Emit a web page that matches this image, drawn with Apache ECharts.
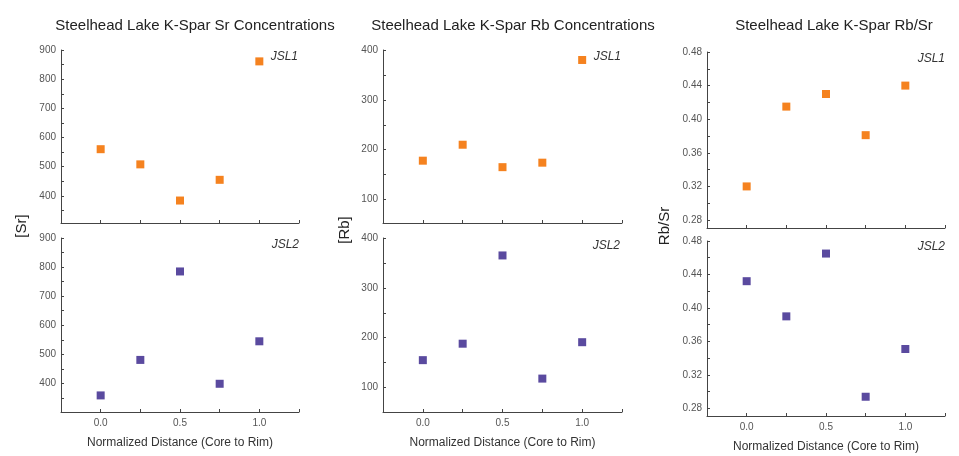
<!DOCTYPE html>
<html>
<head>
<meta charset="utf-8">
<script src="https://cdn.jsdelivr.net/npm/echarts@6/dist/echarts.min.js"></script>
<style>
  html, body { margin: 0; padding: 0; background: #fff; }
  #chart { width: 959px; height: 456px; }
</style>
</head>
<body>
<div id="chart"></div>
<script>
// normalized distance from core (0) to rim (1)
const distance = [0, 0.25, 0.5, 0.75, 1.0]

const srJSL1 = [560, 508, 384, 455, 861]
const srJSL2 = [359, 481, 785, 399, 545]
const rbJSL1 = [178, 210, 165, 174, 380]
const rbJSL2 = [155, 188, 365, 118, 191]
const ratioJSL1 = [0.320, 0.415, 0.430, 0.381, 0.440]
const ratioJSL2 = [0.432, 0.390, 0.465, 0.294, 0.351]

// tick labels / tick marks
const xLabels = [0, 0.5, 1.0]
const xTickMarks = [0, 0.25, 0.5, 0.75, 1.0, 1.25]
const srLabels = [400, 500, 600, 700, 800, 900]
const srTickMarks = [350, 400, 450, 500, 550, 600, 650, 700, 750, 800, 850, 900]
const rbLabels = [100, 200, 300, 400]
const rbTickMarks = [100, 150, 200, 250, 300, 350, 400]
const ratioLabels = [0.28, 0.32, 0.36, 0.40, 0.44, 0.48]
const ratioTickMarks = [0.28, 0.30, 0.32, 0.34, 0.36, 0.38, 0.40, 0.42, 0.44, 0.46, 0.48]

const titles = [
  'Steelhead Lake K-Spar Sr Concentrations',
  'Steelhead Lake K-Spar Rb Concentrations',
  'Steelhead Lake K-Spar Rb/Sr'
]

const ORANGE = '#f5821f'
const PURPLE = '#5a4a9f'
const FONT = 'Liberation Sans, Arial, sans-serif'

const chart = echarts.init(document.getElementById('chart'))

// panel layout: [left, top, width, height]
const grids = [
  [61, 50, 238, 173],   // Sr JSL1
  [61, 238, 238, 174],  // Sr JSL2
  [383, 50, 239, 173],  // Rb JSL1
  [383, 238, 239, 174], // Rb JSL2
  [707, 52, 238, 176],  // Rb/Sr JSL1
  [707, 241, 238, 175]  // Rb/Sr JSL2
]

const yRanges = [
  [307, 900], [302, 900],
  [53, 400], [51, 400],
  [0.2705, 0.48], [0.271, 0.48]
]
const yLabelSets = [srLabels, srLabels, rbLabels, rbLabels, ratioLabels, ratioLabels]
const yTickSets = [srTickMarks, srTickMarks, rbTickMarks, rbTickMarks, ratioTickMarks, ratioTickMarks]
const seriesData = [srJSL1, srJSL2, rbJSL1, rbJSL2, ratioJSL1, ratioJSL2]

const axisLine = { show: true, onZero: false, lineStyle: { color: '#444', width: 1 } }

const option = {
  backgroundColor: '#fff',
  animation: false,
  title: titles.map((t, i) => ({
    text: t,
    left: [190, 508, 829][i],
    top: 13,
    textAlign: 'center',
    textStyle: { fontFamily: FONT, fontSize: 15, fontWeight: 'normal', color: '#222' }
  })),
  grid: grids.map(g => ({ left: g[0], top: g[1], width: g[2], height: g[3] })),
  xAxis: grids.map((g, i) => ({
    type: 'value',
    gridIndex: i,
    min: -0.25,
    max: 1.25,
    axisLine: axisLine,
    splitLine: { show: false },
    axisTick: { show: true, inside: true, length: 3, customValues: xTickMarks, lineStyle: { color: '#444' } },
    axisLabel: {
      show: i % 2 === 1,
      customValues: xLabels,
      formatter: v => v.toFixed(1),
      margin: 6,
      fontFamily: FONT,
      fontSize: 10,
      color: '#555'
    },
    name: i % 2 === 1 ? 'Normalized Distance (Core to Rim)' : '',
    nameLocation: 'middle',
    nameGap: 25,
    nameTextStyle: { fontFamily: FONT, fontSize: 12, color: '#333' }
  })),
  yAxis: grids.map((g, i) => ({
    type: 'value',
    gridIndex: i,
    min: yRanges[i][0],
    max: yRanges[i][1],
    axisLine: axisLine,
    splitLine: { show: false },
    axisTick: { show: true, inside: true, length: 3, customValues: yTickSets[i], lineStyle: { color: '#444' } },
    axisLabel: {
      customValues: yLabelSets[i],
      formatter: i >= 4 ? (v => v.toFixed(2)) : (v => String(v)),
      margin: 5,
      fontFamily: FONT,
      fontSize: 10,
      color: '#555'
    }
  })),
  series: seriesData.map((d, i) => ({
    type: 'scatter',
    name: i % 2 === 0 ? 'JSL1' : 'JSL2',
    xAxisIndex: i,
    yAxisIndex: i,
    symbol: 'rect',
    symbolSize: 8,
    itemStyle: { color: i % 2 === 0 ? ORANGE : PURPLE, opacity: 1 },
    data: distance.map((x, k) => [x, d[k]])
  })),
  graphic: [
    // y axis names
    { type: 'text', x: 22, y: 226, rotation: Math.PI / 2,
      style: { text: '[Sr]', font: '15px ' + FONT, fill: '#222', align: 'center', verticalAlign: 'middle' } },
    { type: 'text', x: 345, y: 230, rotation: Math.PI / 2,
      style: { text: '[Rb]', font: '15px ' + FONT, fill: '#222', align: 'center', verticalAlign: 'middle' } },
    { type: 'text', x: 665, y: 226, rotation: Math.PI / 2,
      style: { text: 'Rb/Sr', font: '15px ' + FONT, fill: '#222', align: 'center', verticalAlign: 'middle' } },
    // sample labels
    { type: 'text', x: 298, y: 57, style: { text: 'JSL1', font: 'italic 12px ' + FONT, fill: '#333', align: 'right', verticalAlign: 'middle' } },
    { type: 'text', x: 299, y: 245, style: { text: 'JSL2', font: 'italic 12px ' + FONT, fill: '#333', align: 'right', verticalAlign: 'middle' } },
    { type: 'text', x: 621, y: 57, style: { text: 'JSL1', font: 'italic 12px ' + FONT, fill: '#333', align: 'right', verticalAlign: 'middle' } },
    { type: 'text', x: 620, y: 246, style: { text: 'JSL2', font: 'italic 12px ' + FONT, fill: '#333', align: 'right', verticalAlign: 'middle' } },
    { type: 'text', x: 945, y: 59, style: { text: 'JSL1', font: 'italic 12px ' + FONT, fill: '#333', align: 'right', verticalAlign: 'middle' } },
    { type: 'text', x: 945, y: 247, style: { text: 'JSL2', font: 'italic 12px ' + FONT, fill: '#333', align: 'right', verticalAlign: 'middle' } }
  ]
}

chart.setOption(option)
</script>
</body>
</html>
